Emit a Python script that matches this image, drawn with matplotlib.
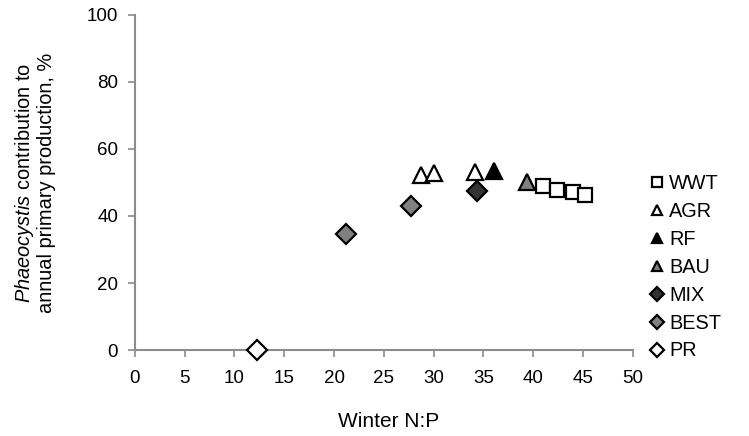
import matplotlib.pyplot as plt

plt.rcParams['font.family'] = 'Liberation Sans'
plt.rcParams['mathtext.fontset'] = 'custom'
plt.rcParams['mathtext.it'] = 'Liberation Sans:italic'
plt.rcParams['mathtext.rm'] = 'Liberation Sans'

# scenario data: winter N:P vs Phaeocystis share (%)
wwt_x = [41.0, 42.4, 44.0, 45.2]
wwt_y = [49.0, 47.8, 47.2, 46.3]
agr_x = [28.7, 30.0, 34.1]
agr_y = [52.2, 52.8, 53.0]
rf_x = [36.1]
rf_y = [53.5]
bau_x = [39.4]
bau_y = [50.0]
mix_x = [34.3]
mix_y = [47.5]
best_x = [21.2, 27.7]
best_y = [34.6, 43.0]
pr_x = [12.3]
pr_y = [0.0]

fig = plt.figure(figsize=(7.49, 4.36), dpi=100)
ax = fig.add_axes([0.180, 0.197, 0.665, 0.769])

ew = 1.6
ax.plot(wwt_x, wwt_y, 's', ms=10.5, mfc='white', mec='black', mew=ew, label='WWT', clip_on=False)
ax.plot(agr_x, agr_y, '^', ms=11, mfc='white', mec='black', mew=ew, label='AGR', clip_on=False)
ax.plot(rf_x, rf_y, '^', ms=11, mfc='black', mec='black', mew=ew, label='RF', clip_on=False)
ax.plot(bau_x, bau_y, '^', ms=11, mfc='#808080', mec='black', mew=ew, label='BAU', clip_on=False)
ax.plot(mix_x, mix_y, 'D', ms=10, mfc='#333333', mec='black', mew=ew, label='MIX', clip_on=False)
ax.plot(best_x, best_y, 'D', ms=10, mfc='#808080', mec='black', mew=ew, label='BEST', clip_on=False)
ax.plot(pr_x, pr_y, 'D', ms=10, mfc='white', mec='black', mew=ew, label='PR', clip_on=False, zorder=5)

ax.set_xlim(0, 50)
ax.set_ylim(0, 100)
ax.set_xticks(range(0, 51, 5))
ax.set_yticks(range(0, 101, 20))

for s in ['top', 'right']:
    ax.spines[s].set_visible(False)
for s in ['left', 'bottom']:
    ax.spines[s].set_color('#8c8c8c')
    ax.spines[s].set_linewidth(1.5)
ax.tick_params(axis='both', colors='#8c8c8c', length=5, width=1.2, labelsize=13.5, labelcolor='black')
ax.tick_params(axis='x', pad=9)
ax.tick_params(axis='y', pad=7)

ax.set_xlabel('Winter N:P', fontsize=15)
ax.xaxis.set_label_coords(0.51, -0.185)
ax.set_ylabel('$\\mathit{Phaeocystis}$ contribution to\nannual primary production, %', fontsize=14.4,
              labelpad=22, linespacing=1.05)

leg = ax.legend(loc='upper left', bbox_to_anchor=(0.856, 0.624), bbox_transform=fig.transFigure,
                frameon=False, fontsize=14.3, markerscale=0.7, handlelength=0.6, handletextpad=0.3,
                labelspacing=0.45, borderpad=0)

fig.savefig('out.png', dpi=100)
